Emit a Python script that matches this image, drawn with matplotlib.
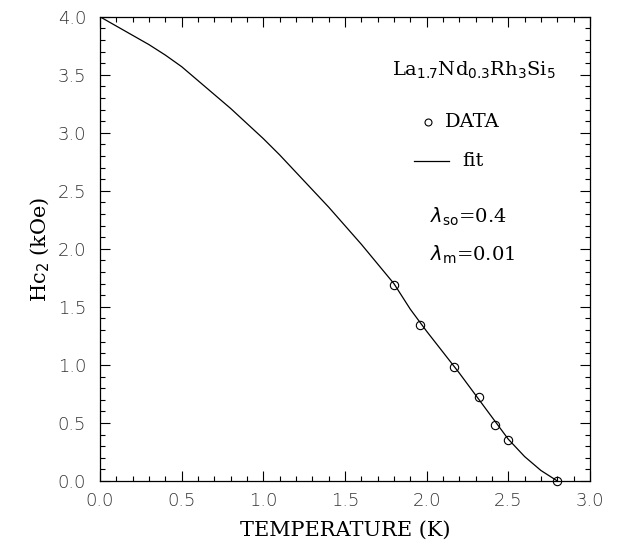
import matplotlib
matplotlib.use("Agg")
import matplotlib.pyplot as plt
from matplotlib.ticker import MultipleLocator

# Data points
data_T = [1.80, 1.96, 2.17, 2.32, 2.42, 2.50, 2.80]
data_H = [1.69, 1.345, 0.985, 0.727, 0.483, 0.35, 0.00]

# Fit curve
fit_T = [0.0, 0.1, 0.2, 0.3, 0.4, 0.5, 0.6, 0.7, 0.8, 0.9, 1.0, 1.1, 1.2, 1.3,
         1.4, 1.5, 1.6, 1.7, 1.8, 1.9, 2.0, 2.1, 2.2, 2.3, 2.4, 2.5, 2.6, 2.7, 2.8]
fit_H = [4.00, 3.92, 3.84, 3.76, 3.67, 3.57, 3.45, 3.33, 3.21, 3.08, 2.95, 2.81,
         2.66, 2.51, 2.36, 2.20, 2.04, 1.87, 1.70, 1.48, 1.29, 1.11, 0.93, 0.74,
         0.55, 0.36, 0.21, 0.09, 0.00]

xticks = [0.0, 0.5, 1.0, 1.5, 2.0, 2.5, 3.0]
yticks = [0.0, 0.5, 1.0, 1.5, 2.0, 2.5, 3.0, 3.5, 4.0]

fig = plt.figure(figsize=(6.21, 5.41), dpi=100)
ax = fig.add_axes([0.161, 0.111, 0.789, 0.858])

ax.plot(fit_T, fit_H, color="black", lw=0.9)
ax.plot(data_T, data_H, linestyle="none", marker="o", markersize=6,
        markerfacecolor="none", markeredgecolor="black", markeredgewidth=0.8,
        clip_on=False, zorder=5)

ax.set_xlim(0, 3.0)
ax.set_ylim(0, 4.0)
ax.set_xticks(xticks)
ax.set_yticks(yticks)
ax.set_xticklabels([f"{v:.1f}" for v in xticks])
ax.set_yticklabels([f"{v:.1f}" for v in yticks])
ax.xaxis.set_minor_locator(MultipleLocator(0.1))
ax.yaxis.set_minor_locator(MultipleLocator(0.1))
ax.tick_params(which="both", direction="in", top=True, right=True, width=0.8)
ax.tick_params(which="major", length=7, labelsize=13)
ax.tick_params(axis="y", which="major", pad=10)
ax.tick_params(axis="x", which="major", pad=8)
ax.tick_params(which="minor", length=3.5)
for lbl in ax.get_xticklabels() + ax.get_yticklabels():
    lbl.set_family("DejaVu Sans")
    lbl.set_fontweight("light")
    lbl.set_color("#333333")
for s in ax.spines.values():
    s.set_linewidth(0.9)

serif = "DejaVu Serif"
ax.set_xlabel("TEMPERATURE (K)", family=serif, fontsize=15, labelpad=8)
ax.set_ylabel(r"Hc$_2$ (kOe)", family=serif, fontsize=15, labelpad=4)

ax.text(1.79, 3.54, r"La$_{1.7}$Nd$_{0.3}$Rh$_3$Si$_5$", family=serif,
        fontsize=14, va="center", ha="left")
ax.plot([2.01], [3.09], marker="o", markersize=5, markerfacecolor="none",
        markeredgecolor="black", markeredgewidth=0.8)
ax.text(2.11, 3.09, "DATA", family=serif, fontsize=14, va="center", ha="left")
ax.plot([1.92, 2.14], [2.76, 2.76], color="black", lw=0.9)
ax.text(2.22, 2.76, "fit", family=serif, fontsize=14, va="center", ha="left")
ax.text(2.02, 2.28, r"$\lambda_{\rm so}$=0.4", family=serif, fontsize=14,
        va="center", ha="left")
ax.text(2.02, 1.95, r"$\lambda_{\rm m}$=0.01", family=serif, fontsize=14,
        va="center", ha="left")

fig.savefig("out.png", dpi=100)
